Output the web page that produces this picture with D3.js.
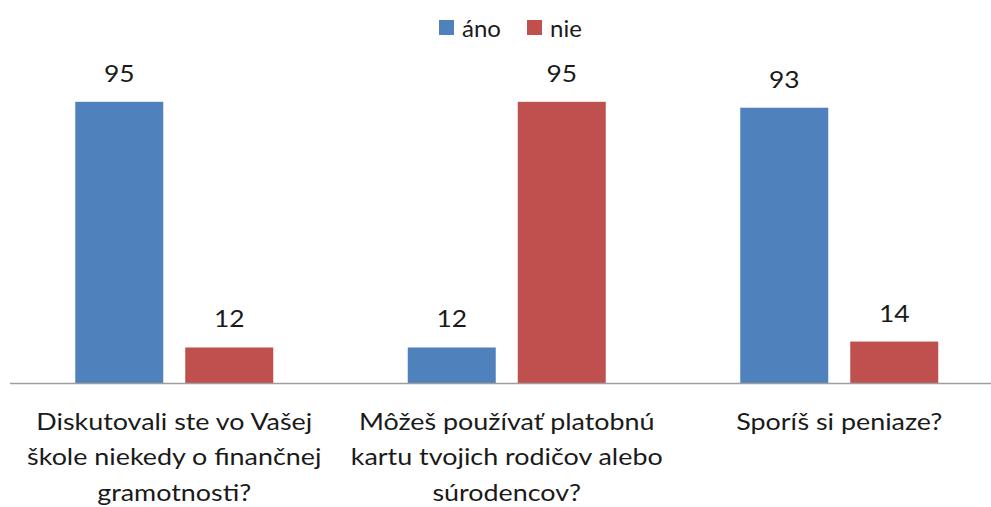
<!DOCTYPE html>
<html>
<head>
<meta charset="utf-8">
<script src="https://cdn.jsdelivr.net/npm/d3@7"></script>
<style>
  html, body { margin: 0; padding: 0; background: #fff; }
  svg { display: block; }
  text { font-family: Lato, "Open Sans", sans-serif; fill: #1a1a1a; }
</style>
</head>
<body>
<svg id="chart" width="991" height="507"></svg>
<script>
const categories = [
  "Diskutovali ste vo Vašej škole niekedy o finančnej gramotnosti?",
  "Môžeš používať platobnú kartu tvojich rodičov alebo súrodencov?",
  "Sporíš si peniaze?"
];
const categoryLines = [
  ["Diskutovali ste vo Vašej", "škole niekedy o finančnej", "gramotnosti?"],
  ["Môžeš používať platobnú", "kartu tvojich rodičov alebo", "súrodencov?"],
  ["Sporíš si peniaze?"]
];
const seriesNames = ["áno", "nie"];
const anoValues = [95, 12, 93];
const nieValues = [12, 95, 14];
const seriesColors = ["#4F81BD", "#C0504D"];

const data = categories.map((c, i) => ({ cat: c, values: [anoValues[i], nieValues[i]] }));

const W = 991, H = 507;
const svg = d3.select("#chart");

const x0 = d3.scaleBand().domain(categories).range([8, 1005.5]).padding(0);
const groupPad = (x0.bandwidth() - 198) / 2;
const x1 = d3.scaleBand().domain(seriesNames)
  .range([groupPad, groupPad + 198]).paddingInner(0.2).paddingOuter(0);
const y = d3.scaleLinear().domain([0, 100]).range([383, 87]);
const color = d3.scaleOrdinal().domain(seriesNames).range(seriesColors);

// bars
const groups = svg.append("g").selectAll("g").data(data).join("g")
  .attr("transform", d => `translate(${x0(d.cat)},0)`);

groups.selectAll("rect")
  .data(d => d.values.map((v, j) => ({ s: seriesNames[j], v })))
  .join("rect")
  .attr("x", d => x1(d.s))
  .attr("width", x1.bandwidth())
  .attr("y", d => y(d.v))
  .attr("height", d => y(0) - y(d.v))
  .attr("fill", d => color(d.s));

groups.selectAll("text.val")
  .data(d => d.values.map((v, j) => ({ s: seriesNames[j], v })))
  .join("text")
  .attr("class", "val")
  .attr("transform", d => `translate(${x1(d.s) + x1.bandwidth() / 2},${y(d.v) - 20}) scale(1.1,1)`)
  .attr("text-anchor", "middle")
  .style("font-size", "24px")
  .text(d => d.v);

// axis line
const xAxis = d3.axisBottom(x0).tickSize(0).tickFormat("");
const ax = svg.append("g").attr("transform", `translate(0,${y(0)})`).call(xAxis);
ax.select(".domain").attr("d", `M10,0.5H${W}`).attr("stroke", "#9e9e9e").attr("stroke-width", 1.5);

// category labels
const labels = svg.append("g").selectAll("text").data(categories).join("text")
  .attr("text-anchor", "middle")
  .style("font-size", "24px")
  .attr("transform", d => `translate(${x0(d) + x0.bandwidth() / 2},430) scale(1.12,1)`);
labels.each(function(d, i) {
  d3.select(this).selectAll("tspan").data(categoryLines[i]).join("tspan")
    .attr("x", 0)
    .attr("y", (l, k) => k * 35.5)
    .text(l => l);
});

// legend
const legendX = [439, 527];
const legend = svg.append("g").selectAll("g").data(seriesNames).join("g")
  .attr("transform", (d, i) => `translate(${legendX[i]},20)`);
legend.append("rect").attr("width", 15).attr("height", 15).attr("fill", d => color(d));
legend.append("text").attr("x", 23).attr("y", 17).style("font-size", "24px").text(d => d);
</script>
</body>
</html>
